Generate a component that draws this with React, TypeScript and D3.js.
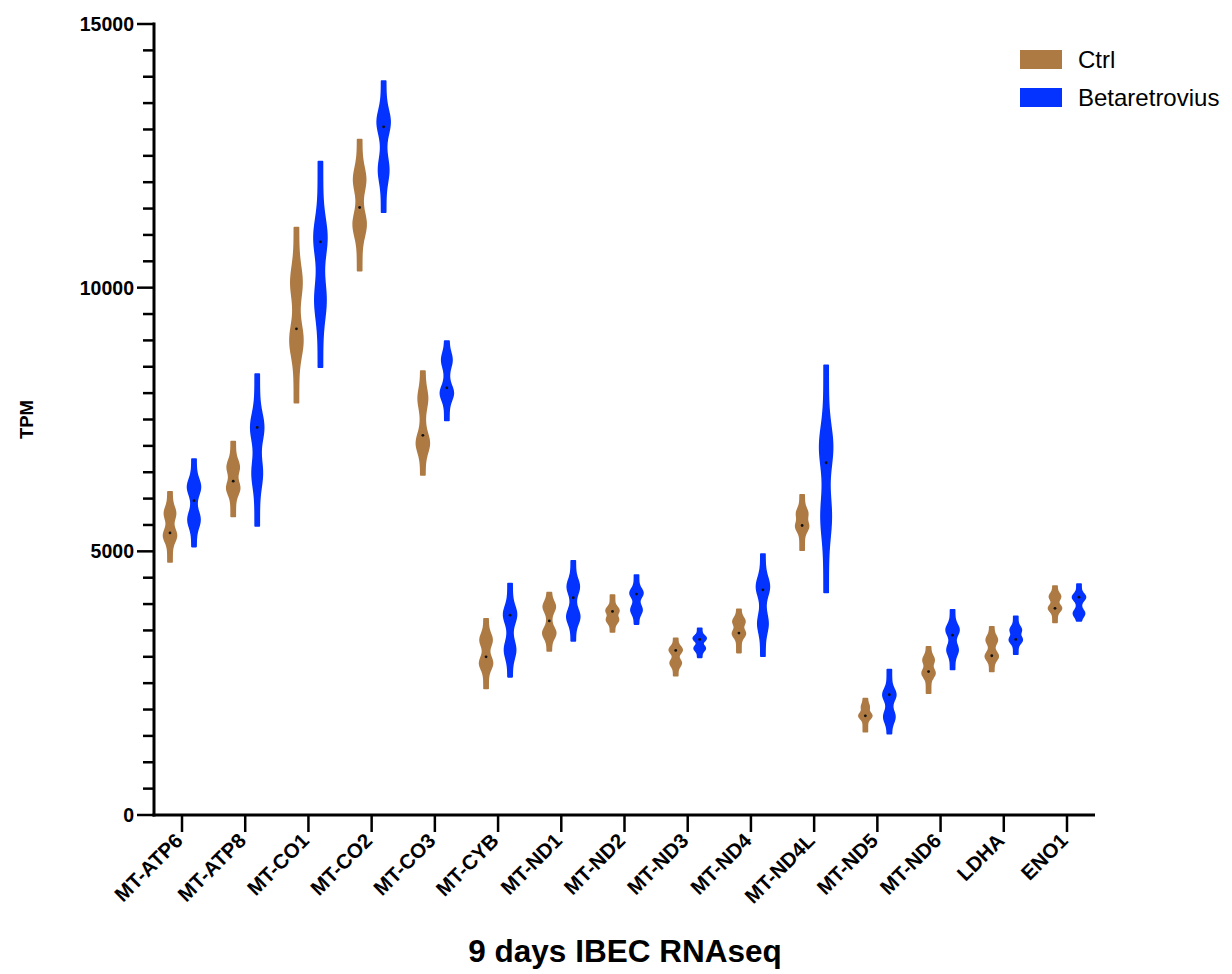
import React from 'react';
import * as d3 from 'd3';

const genes = ['MT-ATP6', 'MT-ATP8', 'MT-CO1', 'MT-CO2', 'MT-CO3', 'MT-CYB', 'MT-ND1', 'MT-ND2', 'MT-ND3', 'MT-ND4', 'MT-ND4L', 'MT-ND5', 'MT-ND6', 'LDHA', 'ENO1'];
const groups = ['Ctrl', 'Betaretrovius'];

// Ctrl violins (TPM)
const ctrlMedian = [5350, 6330, 9220, 11520, 7200, 3000, 3680, 3860, 3120, 3450, 5490, 1880, 2720, 3020, 3920];
const ctrlMin = [4800, 5660, 7820, 10320, 6450, 2400, 3110, 3470, 2640, 3080, 5020, 1580, 2310, 2720, 3650];
const ctrlMax = [6130, 7080, 11140, 12810, 8420, 3720, 4220, 4170, 3350, 3900, 6070, 2210, 3190, 3570, 4340];
// bulges of each violin: [TPM, relative weight]
const ctrlPeaks = [
  [[5720, 0.8], [5300, 1]],
  [[6600, 0.9], [6200, 1]],
  [[10100, 0.8], [9000, 1]],
  [[12050, 0.9], [11200, 1]],
  [[7900, 0.6], [7050, 1]],
  [[3320, 0.9], [2880, 1]],
  [[3950, 0.9], [3450, 1]],
  [[3880, 1], [3700, 0.9]],
  [[3130, 1], [2880, 0.8]],
  [[3670, 0.9], [3440, 1]],
  [[5720, 0.8], [5470, 1]],
  [[2050, 0.4], [1880, 1]],
  [[2940, 0.8], [2690, 1]],
  [[3320, 0.8], [3010, 1]],
  [[4140, 0.8], [3920, 1]],
];

// Betaretrovius violins (TPM)
const betaMedian = [5960, 7350, 10870, 13050, 8100, 3790, 4120, 4190, 3330, 4270, 6680, 2280, 3410, 3330, 4130];
const betaMin = [5090, 5480, 8490, 11430, 7480, 2620, 3300, 3620, 2990, 3010, 4220, 1540, 2760, 3050, 3680];
const betaMax = [6750, 8360, 12390, 13920, 8990, 4390, 4820, 4550, 3540, 4950, 8530, 2760, 3890, 3770, 4380];
const betaPeaks = [
  [[6220, 1], [5600, 0.9]],
  [[7350, 1], [6480, 0.7]],
  [[10950, 1], [9760, 0.8]],
  [[13140, 1], [12230, 0.7]],
  [[8630, 0.7], [8000, 1]],
  [[3800, 1], [3130, 0.8]],
  [[4330, 0.9], [3760, 1]],
  [[4210, 1], [3890, 0.8]],
  [[3350, 1], [3160, 0.8]],
  [[4330, 1], [3630, 0.7]],
  [[6980, 1], [5660, 0.7]],
  [[2280, 1], [1860, 0.8]],
  [[3510, 1], [3130, 0.8]],
  [[3510, 0.8], [3320, 1]],
  [[4130, 1], [3820, 0.8]],
];

const yMajorTicks = [0, 5000, 10000, 15000];

const colors: Record<string, string> = { Ctrl: '#AE7A44', Betaretrovius: '#0433FF' };
const FONT = '"Liberation Sans", Arial, Helvetica, sans-serif';

const W = 1232;
const H = 974;
const left = 154;
const right = 1095;
const top = 24;
const bottom = 815;

interface Violin {
  gene: string;
  group: string;
  median: number;
  lo: number;
  hi: number;
  peaks: number[][];
}

const violins: Violin[] = [];
genes.forEach((g, i) => {
  violins.push({ gene: g, group: 'Ctrl', median: ctrlMedian[i], lo: ctrlMin[i], hi: ctrlMax[i], peaks: ctrlPeaks[i] });
  violins.push({ gene: g, group: 'Betaretrovius', median: betaMedian[i], lo: betaMin[i], hi: betaMax[i], peaks: betaPeaks[i] });
});

// gaussian mixture over the bulges, sampled between min and max
function profile(v: Violin) {
  const h = (v.hi - v.lo) * 0.09;
  const pts = d3.range(0, 61).map(k => {
    const t = v.lo + ((v.hi - v.lo) * k) / 60;
    const f = d3.sum(v.peaks, p => p[1] * Math.exp(-0.5 * ((t - p[0]) / h) ** 2));
    return { t, f };
  });
  const fmax = d3.max(pts, p => p.f) || 1;
  return pts.map(p => ({ t: p.t, w: 0.32 + 0.68 * (p.f / fmax) }));
}

export default function App() {
  const x = d3.scalePoint<string>().domain(genes).range([left, right]).padding(0.443);
  const xSub = d3.scalePoint<string>().domain(groups).range([-12, 12]);
  const y = d3.scaleLinear().domain([0, 15000]).range([bottom, top]);
  const minorTicks = d3.range(0, 15001, 500);
  const halfW = 6.5;

  const area = (cx: number) =>
    d3
      .area<{ t: number; w: number }>()
      .y(d => y(d.t))
      .x0(d => cx - d.w * halfW)
      .x1(d => cx + d.w * halfW)
      .curve(d3.curveBasis);

  return (
    <div style={{ position: 'absolute', left: 0, top: 0 }}>
      <svg width={W} height={H} style={{ display: 'block', background: '#fff' }} fontFamily={FONT}>
        {/* violins */}
        {violins.map(v => {
          const cx = (x(v.gene) as number) + (xSub(v.group) as number);
          return (
            <g key={v.gene + v.group}>
              <path
                d={area(cx)(profile(v)) as string}
                fill={colors[v.group]}
                stroke={colors[v.group]}
                strokeWidth={1.6}
                strokeLinejoin="round"
              />
              <circle cx={cx} cy={y(v.median)} r={1.4} fill="#111" />
            </g>
          );
        })}

        {/* y axis */}
        <line x1={left} x2={left} y1={top - 1.5} y2={bottom + 1.5} stroke="#000" strokeWidth={3} />
        {minorTicks.map(t => (
          <line
            key={t}
            x1={left}
            x2={left - (t % 5000 === 0 ? 17 : 11)}
            y1={y(t)}
            y2={y(t)}
            stroke="#000"
            strokeWidth={2.5}
          />
        ))}
        {yMajorTicks.map(t => (
          <text
            key={t}
            x={left - 20}
            y={y(t)}
            dy="0.36em"
            textAnchor="end"
            fontSize={19.5}
            fontWeight="bold"
          >
            {t}
          </text>
        ))}
        <text
          transform={`translate(33, ${(top + bottom) / 2}) rotate(-90)`}
          textAnchor="middle"
          fontSize={18.5}
          fontWeight="bold"
        >
          TPM
        </text>

        {/* x axis */}
        <line x1={left - 1.5} x2={right} y1={bottom} y2={bottom} stroke="#000" strokeWidth={3} />
        {genes.map(g => (
          <g key={g} transform={`translate(${x(g)}, ${bottom})`}>
            <line y1={0} y2={17} stroke="#000" strokeWidth={2.5} />
            <text
              transform="translate(2, 27) rotate(-45)"
              textAnchor="end"
              fontSize={20.5}
              fontWeight="bold"
            >
              {g}
            </text>
          </g>
        ))}
        <text x={625} y={962} textAnchor="middle" fontSize={31.5} fontWeight="bold">
          9 days IBEC RNAseq
        </text>

        {/* legend */}
        {groups.map((g, i) => (
          <g key={g} transform={`translate(1020, ${50 + i * 38})`}>
            <rect width={42} height={19} fill={colors[g]} />
            <text x={58} y={18} fontSize={24}>
              {g}
            </text>
          </g>
        ))}
      </svg>
    </div>
  );
}
